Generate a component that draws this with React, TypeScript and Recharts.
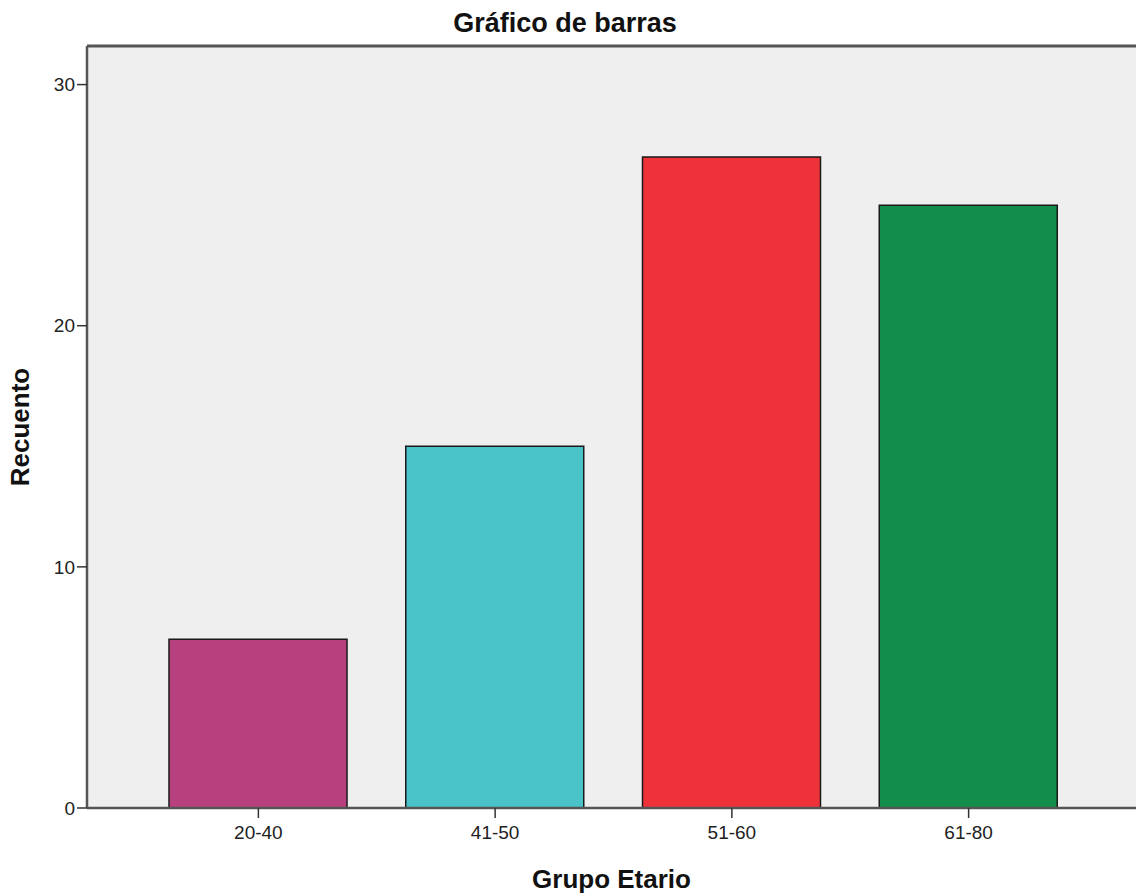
import { BarChart, Bar, XAxis, YAxis, CartesianGrid, ReferenceLine, Cell, Label } from "recharts";

const groups = ["20-40", "41-50", "51-60", "61-80"];
const counts = [7, 15, 27, 25];
const barColors = ["#B9407E", "#49C3C8", "#EF3239", "#128D4A"];
const yTicks = [0, 10, 20, 30];
const yMax = 31.6;

const data = groups.map((name, i) => ({ name, count: counts[i] }));

const FONT = "'Liberation Sans', Arial, sans-serif";
const AXIS = "#555555";

export default function App() {
  return (
    <div style={{ position: "absolute", left: 0, top: 0, width: 1136, height: 894, background: "#fff", overflow: "hidden" }}>
      <div
        style={{
          position: "absolute",
          top: 10,
          left: 0,
          width: 1130,
          textAlign: "center",
          fontFamily: FONT,
          fontWeight: "bold",
          fontSize: 27,
          lineHeight: "27px",
          color: "#111",
        }}
      >
        Gráfico de barras
      </div>
      <BarChart width={1136} height={894} data={data} margin={{ top: 46, right: 0, left: 0, bottom: 0 }}>
        <CartesianGrid fill="#EFEFEF" horizontal={false} vertical={false} />
        <XAxis
          dataKey="name"
          height={86}
          padding={{ left: 53, right: 49 }}
          stroke={AXIS}
          axisLine={{ stroke: AXIS, strokeWidth: 2.5 }}
          tickLine={{ stroke: "#333", strokeWidth: 1.5 }}
          tickSize={10}
          tick={{ fill: "#222", fontSize: 19, fontFamily: FONT, dy: 6 }}
        >
          <Label
            value="Grupo Etario"
            position="insideBottom"
            offset={6}
            style={{ fill: "#111", fontSize: 26, fontWeight: "bold", fontFamily: FONT }}
          />
        </XAxis>
        <YAxis
          width={87}
          domain={[0, yMax]}
          ticks={yTicks}
          allowDataOverflow
          axisLine={{ stroke: AXIS, strokeWidth: 2.5 }}
          tickLine={{ stroke: "#333", strokeWidth: 1.5 }}
          tickSize={10}
          tick={{ fill: "#222", fontSize: 19, fontFamily: FONT }}
        >
          <Label
            value="Recuento"
            angle={-90}
            position="insideLeft"
            offset={20}
            style={{ textAnchor: "middle", fill: "#111", fontSize: 26, fontWeight: "bold", fontFamily: FONT }}
          />
        </YAxis>
        <ReferenceLine y={yMax} stroke={AXIS} strokeWidth={3} />
        <Bar dataKey="count" barSize={178} stroke="#1a1a1a" strokeWidth={1.5} isAnimationActive={false}>
          {data.map((_, i) => (
            <Cell key={`bar-${i}`} fill={barColors[i]} />
          ))}
        </Bar>
      </BarChart>
    </div>
  );
}
